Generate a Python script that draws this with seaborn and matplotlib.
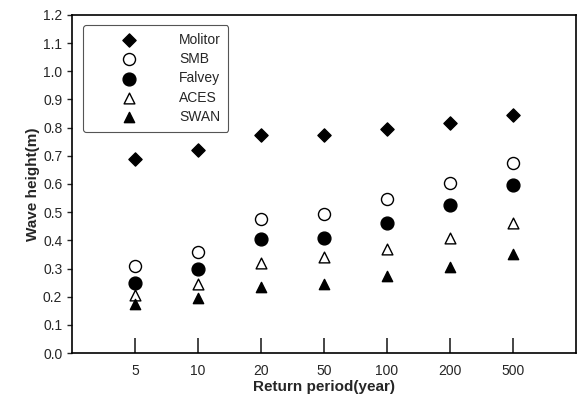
import matplotlib.pyplot as plt
import seaborn as sns
import pandas as pd

# return periods (years) and wave heights (m)
periods = ["5", "10", "20", "50", "100", "200", "500"]
molitor = [0.69, 0.72, 0.775, 0.775, 0.795, 0.815, 0.845]
smb = [0.31, 0.36, 0.475, 0.495, 0.545, 0.605, 0.675]
falvey = [0.25, 0.30, 0.405, 0.41, 0.46, 0.525, 0.595]
aces = [0.205, 0.245, 0.32, 0.34, 0.37, 0.41, 0.46]
swan = [0.175, 0.195, 0.235, 0.245, 0.275, 0.305, 0.35]

series = {"Molitor": molitor, "SMB": smb, "Falvey": falvey, "ACES": aces, "SWAN": swan}
styles = {
    "Molitor": dict(marker="D", facecolor="black", s=45),
    "SMB": dict(marker="o", facecolor="white", s=75),
    "Falvey": dict(marker="o", facecolor="black", s=85),
    "ACES": dict(marker="^", facecolor="white", s=60),
    "SWAN": dict(marker="^", facecolor="black", s=55),
}

df = pd.concat(
    [pd.DataFrame({"period": periods, "height": v, "method": k}) for k, v in series.items()],
    ignore_index=True,
)

sns.set_style("ticks")
plt.rcParams["font.family"] = ["Liberation Sans", "DejaVu Sans"]

fig = plt.figure(figsize=(5.81, 3.94), dpi=100)
ax = fig.add_axes([0.124, 0.104, 0.867, 0.858])

for name in series:
    st = styles[name]
    sns.scatterplot(data=df[df["method"] == name], x="period", y="height", ax=ax,
                    marker=st["marker"], s=st["s"], color=st["facecolor"],
                    edgecolor="black", linewidth=1.0, label=name)

ax.set_xlim(-1, 7)
ax.set_ylim(0, 1.2)
ax.set_yticks([i / 10 for i in range(13)])
ax.set_yticklabels([f"{i / 10:.1f}" for i in range(13)])
ax.tick_params(axis="x", direction="in", length=11, width=1.2, labelsize=10, pad=8)
ax.tick_params(axis="y", direction="out", length=3.5, width=1.0, labelsize=10)
for sp in ax.spines.values():
    sp.set_linewidth(1.2)
    sp.set_color("black")

ax.set_xlabel("Return period(year)", fontweight="bold", fontsize=11, labelpad=1)
ax.set_ylabel("Wave height(m)", fontweight="bold", fontsize=11, labelpad=2)

leg = ax.legend(loc="upper left", bbox_to_anchor=(0.022, 0.97), borderaxespad=0,
                frameon=True, fancybox=True, edgecolor="#555555", fontsize=10,
                handlelength=5.5, handletextpad=0.85, labelspacing=0.38,
                borderpad=0.55)
leg.get_frame().set_linewidth(0.8)
leg.get_frame().set_alpha(1)

fig.savefig("out.png", dpi=100)
